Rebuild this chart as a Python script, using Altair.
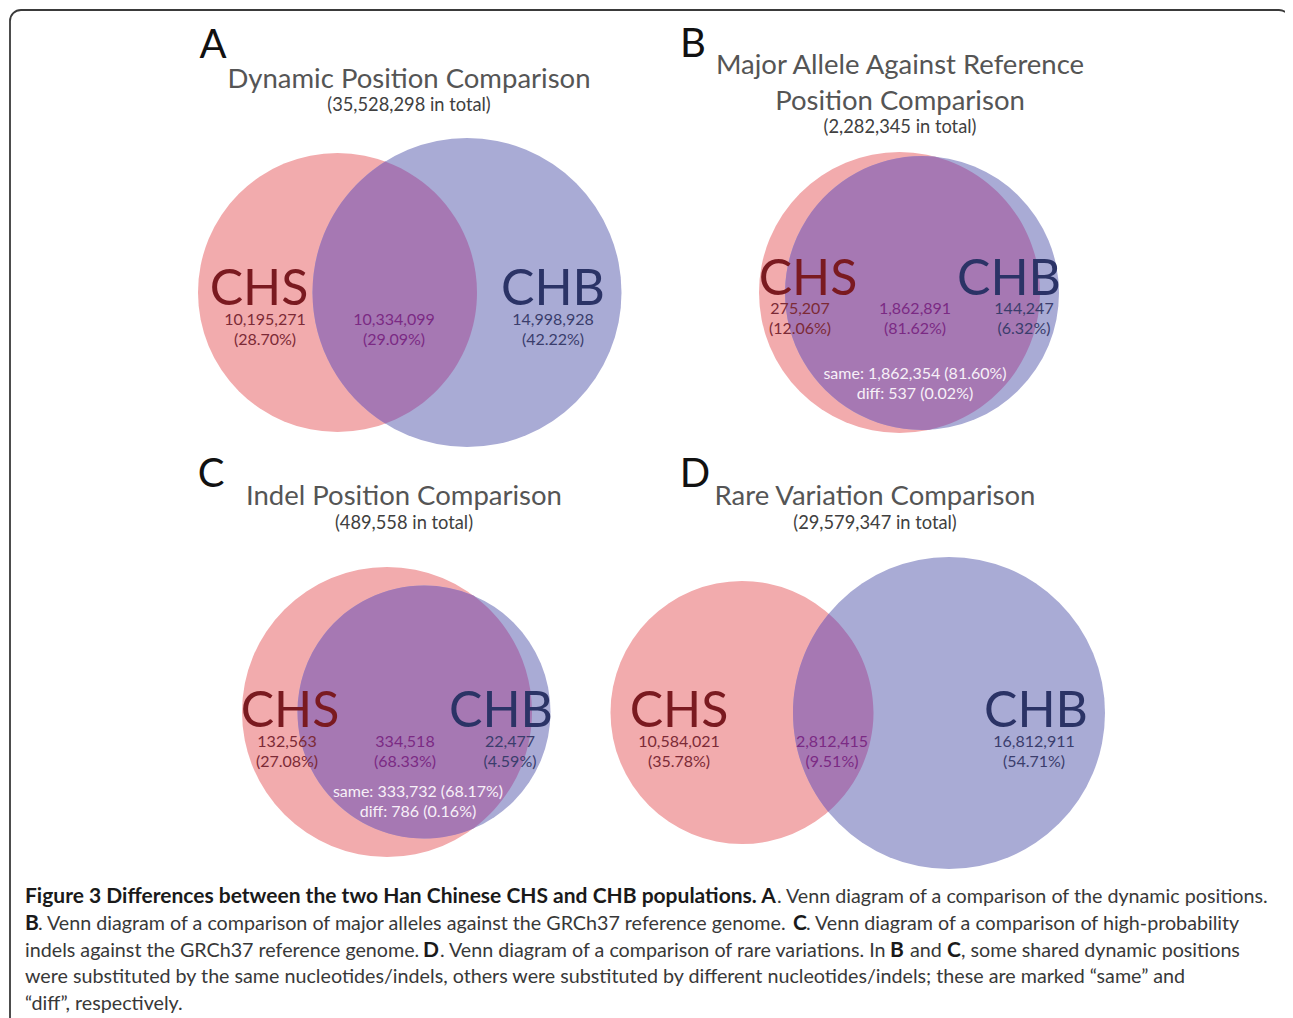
import math
import altair as alt
import pandas as pd

# ------------------------------------------------------------------ data
panel_letters = ["A", "B", "C", "D"]
title_lines = [
    ["Dynamic Position Comparison"],
    ["Major Allele Against Reference", "Position Comparison"],
    ["Indel Position Comparison"],
    ["Rare Variation Comparison"],
]
totals = ["35,528,298", "2,282,345", "489,558", "29,579,347"]
set_names = ["CHS", "CHB"]
chs_only = ["10,195,271", "275,207", "132,563", "10,584,021"]
chs_only_pct = ["28.70%", "12.06%", "27.08%", "35.78%"]
shared = ["10,334,099", "1,862,891", "334,518", "2,812,415"]
shared_pct = ["29.09%", "81.62%", "68.33%", "9.51%"]
chb_only = ["14,998,928", "144,247", "22,477", "16,812,911"]
chb_only_pct = ["42.22%", "6.32%", "4.59%", "54.71%"]
same_counts = [None, "1,862,354", "333,732", None]
same_pct = [None, "81.60%", "68.17%", None]
diff_counts = [None, "537", "786", None]
diff_pct = [None, "0.02%", "0.16%", None]

caption_lines = [
    [("Figure 3 Differences between the two Han Chinese CHS and CHB populations. A", True),
     (". Venn diagram of a comparison of the dynamic positions.", False)],
    [("B", True),
     (". Venn diagram of a comparison of major alleles against the GRCh37 reference genome. ", False),
     ("C", True),
     (". Venn diagram of a comparison of high-probability", False)],
    [("indels against the GRCh37 reference genome. ", False),
     ("D", True),
     (". Venn diagram of a comparison of rare variations. In ", False),
     ("B", True), ("and", False), ("C", True),
     (", some shared dynamic positions", False)],
    [("were substituted by the same nucleotides/indels, others were substituted by different nucleotides/indels; these are marked \u201csame\u201d and", False)],
    [("\u201cdiff\u201d, respectively.", False)],
]

# ---------------------------------------------------------------- layout
W, H = 1277, 1010
X0, Y0 = 8, 8
pink_circles = [(337.5, 292.5, 139.5), (899.5, 292.5, 140.5), (387, 712, 145), (742, 712.5, 131.5)]
blue_circles = [(467, 292.5, 154.5), (922, 293, 137), (424, 712, 126.5), (949, 713, 156)]
letter_pos = [(213, 58), (693, 57), (211, 487), (695, 487)]
title_pos = [(409, [88], 111), (900, [74, 110], 133), (404, [505], 529), (875, [505], 529)]
chs_label_pos = [(259, 305), (808, 295), (290, 727), (679, 727)]
chb_label_pos = [(553, 305), (1009, 295), (501, 727), (1036, 727)]
num_x = [(265, 394, 553), (800, 915, 1024), (287, 405, 510), (679, 832, 1034)]
num_y = [(325, 345), (314, 334), (747, 767), (747, 767)]
samediff_pos = [None, (915, 379, 399), (418, 797, 817), None]
caption_x = [[25, 777], [25, 38, 793, 806], [25, 423, 440, 890, 910, 947, 961], [25], [25]]
caption_y = [903, 930, 957, 983, 1010]

PINK, BLUE, LENS = "#f2abad", "#a9abd5", "#a678b3"
RED_DARK, BLUE_DARK = "#7a1a20", "#2b3366"
RED_NUM, MID_NUM, BLUE_NUM = "#7c2a36", "#7b2a84", "#3a3d6c"
FONT = "Lato"

xs = alt.X("x:Q", scale=alt.Scale(domain=[X0, X0 + W], nice=False, zero=False), axis=None)
ys = alt.Y("y:Q", scale=alt.Scale(domain=[Y0, Y0 + H], nice=False, zero=False, reverse=True), axis=None)

layers = []

# frame
frame = pd.DataFrame({"x": [10], "x2": [1290], "y": [10], "y2": [1060]})
layers.append(
    alt.Chart(frame).mark_rect(cornerRadius=11, fillOpacity=0, stroke="#3a3a3a", strokeWidth=1.8)
    .encode(x=xs, x2="x2:Q", y=ys, y2="y2:Q")
)

# circles
circ_rows = []
for (px, py, pr) in pink_circles:
    circ_rows.append({"x": px, "y": py, "s": (2 * pr) ** 2, "c": PINK, "o": 0})
for (bx, by, br) in blue_circles:
    circ_rows.append({"x": bx, "y": by, "s": (2 * br) ** 2, "c": BLUE, "o": 1})
circ_df = pd.DataFrame(circ_rows)
layers.append(
    alt.Chart(circ_df).mark_point(shape="circle", filled=True, opacity=1, strokeWidth=0)
    .encode(x=xs, y=ys, size=alt.Size("s:Q", scale=None, legend=None),
            color=alt.Color("c:N", scale=None), order=alt.Order("o:Q"))
)


def lens(c1, c2, unit=100.0):
    x1, y1, r1 = c1
    x2, y2, r2 = c2
    dx, dy = x2 - x1, y2 - y1
    d = math.hypot(dx, dy)
    a = (r1 * r1 - r2 * r2 + d * d) / (2 * d)
    h = math.sqrt(max(r1 * r1 - a * a, 0.0))
    ux, uy = dx / d, dy / d
    mx, my = x1 + a * ux, y1 + a * uy
    p1 = (mx - h * uy, my + h * ux)
    p2 = (mx + h * uy, my - h * ux)
    m2 = (x2 - r2 * ux, y2 - r2 * uy)
    m1 = (x1 + r1 * ux, y1 + r1 * uy)
    tau = 2 * math.pi

    def flags(c, ps, pe, pm):
        a0 = math.atan2(ps[1] - c[1], ps[0] - c[0])
        a1 = math.atan2(pe[1] - c[1], pe[0] - c[0])
        am = math.atan2(pm[1] - c[1], pm[0] - c[0])
        delta = (a1 - a0) % tau
        dm = (am - a0) % tau
        if dm < delta:
            sweep, span = 1, delta
        else:
            sweep, span = 0, tau - delta
        return (1 if span > math.pi else 0), sweep

    ax, ay = (x1 + x2) / 2, (y1 + y2) / 2

    def u(p):
        return f"{(p[0] - ax) / unit:.4f} {(p[1] - ay) / unit:.4f}"

    la2, sw2 = flags((x2, y2), p1, p2, m2)
    la1, sw1 = flags((x1, y1), p2, p1, m1)
    path = (f"M {u(p1)} A {r2 / unit:.4f} {r2 / unit:.4f} 0 {la2} {sw2} {u(p2)} "
            f"A {r1 / unit:.4f} {r1 / unit:.4f} 0 {la1} {sw1} {u(p1)} Z")
    return ax, ay, path, (2 * unit) ** 2


for c1, c2 in zip(pink_circles, blue_circles):
    ax, ay, path, size = lens(c1, c2)
    layers.append(
        alt.Chart(pd.DataFrame({"x": [ax], "y": [ay]}))
        .mark_point(shape=path, size=size, filled=True, color=LENS, opacity=1, strokeWidth=0)
        .encode(x=xs, y=ys)
    )

# diagram texts
rows = []
for i in range(4):
    lx, ly = letter_pos[i]
    rows.append({"x": lx, "y": ly, "t": panel_letters[i], "c": "#111111", "s": 40})
    tx, tys, sy = title_pos[i]
    for line, yy in zip(title_lines[i], tys):
        rows.append({"x": tx, "y": yy, "t": line, "c": "#555555", "s": 27.5})
    rows.append({"x": tx, "y": sy, "t": f"({totals[i]} in total)", "c": "#404040", "s": 18.3})
    rows.append({"x": chs_label_pos[i][0], "y": chs_label_pos[i][1], "t": set_names[0], "c": RED_DARK, "s": 50})
    rows.append({"x": chb_label_pos[i][0], "y": chb_label_pos[i][1], "t": set_names[1], "c": BLUE_DARK, "s": 50})
    n1, n2 = num_y[i]
    vals = [(chs_only[i], chs_only_pct[i], RED_NUM), (shared[i], shared_pct[i], MID_NUM),
            (chb_only[i], chb_only_pct[i], BLUE_NUM)]
    for xx, (v, p, col) in zip(num_x[i], vals):
        rows.append({"x": xx, "y": n1, "t": v, "c": col, "s": 16})
        rows.append({"x": xx, "y": n2, "t": f"({p})", "c": col, "s": 16})
    if same_counts[i] is not None:
        sx, sy1, sy2 = samediff_pos[i]
        rows.append({"x": sx, "y": sy1, "t": f"same: {same_counts[i]} ({same_pct[i]})", "c": "#f7f0f8", "s": 16})
        rows.append({"x": sx, "y": sy2, "t": f"diff: {diff_counts[i]} ({diff_pct[i]})", "c": "#f7f0f8", "s": 16})
text_df = pd.DataFrame(rows)
layers.append(
    alt.Chart(text_df).mark_text(font=FONT, align="center", baseline="alphabetic")
    .encode(x=xs, y=ys, text="t:N", color=alt.Color("c:N", scale=None),
            size=alt.Size("s:Q", scale=None, legend=None))
)

# caption
cap_rows = []
for li, segs in enumerate(caption_lines):
    for (txt, bold), xx in zip(segs, caption_x[li]):
        cap_rows.append({"x": xx, "y": caption_y[li], "t": txt, "b": bold})
cap_df = pd.DataFrame(cap_rows)
layers.append(
    alt.Chart(cap_df[~cap_df["b"]]).mark_text(font=FONT, fontSize=19.7, align="left", baseline="alphabetic",
                                             color="#383838")
    .encode(x=xs, y=ys, text="t:N")
)
layers.append(
    alt.Chart(cap_df[cap_df["b"]]).mark_text(font=FONT, fontSize=21, fontWeight="bold", align="left",
                                            baseline="alphabetic", color="#1a1a1a")
    .encode(x=xs, y=ys, text="t:N")
)

chart = (
    alt.layer(*layers)
    .properties(width=W, height=H, autosize=alt.AutoSizeParams(type="none"), padding=0, background="white")
    .configure_view(stroke=None)
)
chart.save("out.html", embed_options={"renderer": "svg", "actions": False})
